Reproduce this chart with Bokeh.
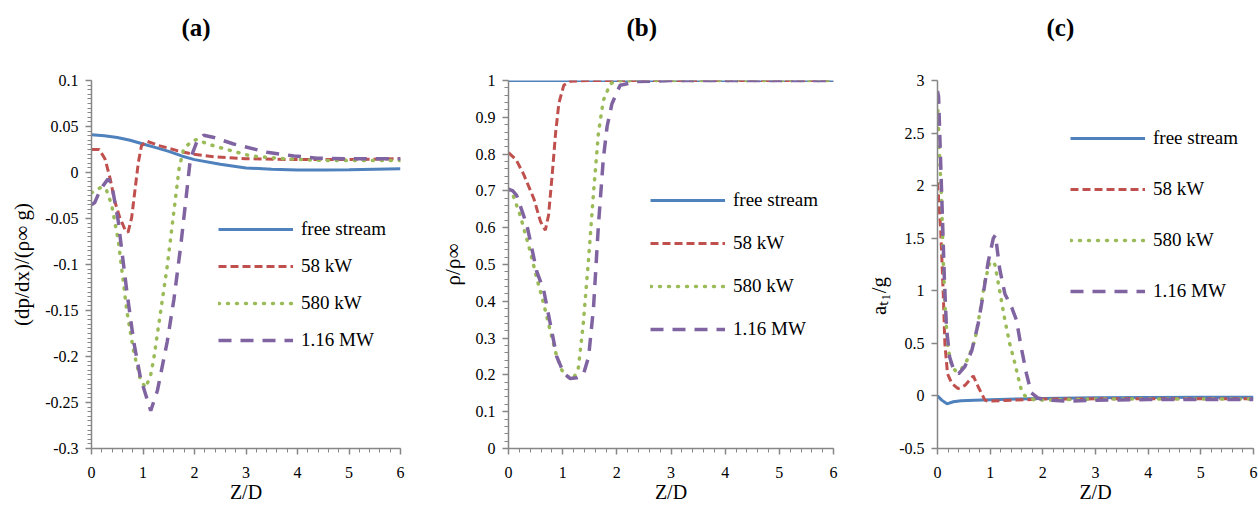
import numpy as np
from bokeh.plotting import figure
from bokeh.layouts import row
from bokeh.models import Range1d, FixedTicker, Legend, LegendItem, Title
from bokeh.embed import file_html
from bokeh.resources import INLINE

# ---------------------------------------------------------------- data
series_names = ["free stream", "58 kW", "580 kW", "1.16 MW"]

# (a) dimensionless pressure gradient
a_free_x = [0, 0.25, 0.5, 0.75, 1.0, 1.25, 1.5, 1.75, 2.0, 2.5, 3.0, 3.5, 4.0, 4.5, 5.0, 5.5, 6.0]
a_free_y = [0.041, 0.040, 0.038, 0.035, 0.031, 0.027, 0.023, 0.018, 0.014, 0.009, 0.005, 0.0035,
            0.0027, 0.0026, 0.003, 0.0035, 0.004]
a_58_x = [0, 0.15, 0.26, 0.36, 0.45, 0.55, 0.65, 0.71, 0.78, 0.84, 0.91, 0.97, 1.07, 1.33, 1.65,
          1.97, 2.4, 3.0, 4.0, 5.0, 6.0]
a_58_y = [0.025, 0.025, 0.015, -0.006, -0.031, -0.049, -0.062, -0.065, -0.049, -0.021, 0.011, 0.029,
          0.034, 0.029, 0.024, 0.020, 0.017, 0.015, 0.014, 0.014, 0.015]
a_580_x = [0, 0.1, 0.19, 0.29, 0.39, 0.45, 0.52, 0.69, 0.82, 0.95, 1.05, 1.15, 1.21, 1.34, 1.47, 1.6,
           1.7, 1.79, 1.95, 2.05, 2.25, 2.63, 3.09, 3.73, 4.5, 5.0, 6.0]
a_580_y = [-0.022, -0.019, -0.016, -0.019, -0.035, -0.053, -0.074, -0.152, -0.195, -0.225, -0.234,
           -0.22, -0.202, -0.152, -0.102, -0.042, 0.004, 0.026, 0.034, 0.036, 0.031, 0.025, 0.018,
           0.015, 0.013, 0.013, 0.013]
a_116_x = [0, 0.06, 0.13, 0.23, 0.32, 0.39, 0.45, 0.52, 0.58, 0.69, 0.82, 0.95, 1.15, 1.28, 1.47, 1.6,
           1.73, 1.83, 1.92, 2.05, 2.18, 2.38, 2.76, 3.41, 3.93, 4.38, 5.0, 6.0]
a_116_y = [-0.035, -0.033, -0.024, -0.014, -0.007, -0.012, -0.031, -0.053, -0.081, -0.131, -0.184,
           -0.223, -0.259, -0.237, -0.184, -0.138, -0.081, -0.031, 0.015, 0.034, 0.0405, 0.038,
           0.031, 0.022, 0.018, 0.0156, 0.015, 0.015]

# (b) density ratio
b_free_x = [0, 1, 2, 3, 4, 5, 6]
b_free_y = [1, 1, 1, 1, 1, 1, 1]
b_58_x = [0, 0.14, 0.28, 0.47, 0.59, 0.68, 0.74, 0.81, 0.87, 0.93, 1.02, 1.14, 1.5, 2, 3, 4, 5, 6]
b_58_y = [0.804, 0.785, 0.745, 0.678, 0.617, 0.593, 0.634, 0.75, 0.858, 0.938, 0.987, 0.998, 1, 1, 1,
          1, 1, 1]
b_580_x = [0, 0.08, 0.215, 0.4, 0.52, 0.65, 0.77, 0.89, 0.98, 1.08, 1.2, 1.29, 1.38, 1.48, 1.57, 1.66,
           1.75, 1.88, 2.0, 2.5, 3, 4, 5, 6]
b_580_y = [0.705, 0.69, 0.634, 0.536, 0.464, 0.393, 0.32, 0.25, 0.214, 0.196, 0.19, 0.219, 0.339,
           0.518, 0.696, 0.857, 0.946, 0.991, 0.999, 1, 1, 1, 1, 1]
b_116_x = [0, 0.08, 0.15, 0.34, 0.52, 0.65, 0.77, 0.89, 1.02, 1.14, 1.26, 1.38, 1.48, 1.57, 1.66, 1.75,
           1.82, 1.91, 2.06, 2.37, 3, 4, 5, 6]
b_116_y = [0.705, 0.70, 0.688, 0.607, 0.482, 0.43, 0.34, 0.25, 0.205, 0.19, 0.192, 0.2, 0.25, 0.384,
           0.607, 0.786, 0.875, 0.937, 0.987, 0.997, 1, 1, 1, 1]

# (c) normalised acceleration
c_free_x = [0, 0.08, 0.18, 0.3, 0.45, 0.7, 1.0, 1.5, 2.0, 3.0, 4.0, 5.0, 6.0]
c_free_y = [0.0, -0.04, -0.075, -0.055, -0.045, -0.04, -0.036, -0.03, -0.025, -0.018, -0.014,
            -0.012, -0.012]
c_58_x = [0, 0.06, 0.11, 0.14, 0.19, 0.27, 0.39, 0.52, 0.68, 0.77, 0.9, 0.96, 1.2, 2.0, 3.0, 4.0,
          5.0, 6.0]
c_58_y = [2.03, 1.59, 0.96, 0.5, 0.21, 0.12, 0.07, 0.10, 0.19, 0.09, -0.04, -0.05, -0.045, -0.03,
          -0.028, -0.028, -0.028, -0.028]
c_580_x = [0, 0.04, 0.08, 0.11, 0.15, 0.2, 0.27, 0.36, 0.46, 0.58, 0.71, 0.8, 0.9, 1.0, 1.09, 1.18,
           1.28, 1.37, 1.47, 1.53, 1.59, 1.66, 1.85, 2.5, 3.0, 4.0, 5.0, 6.0]
c_580_y = [2.8, 2.28, 1.84, 1.28, 0.78, 0.46, 0.28, 0.23, 0.26, 0.355, 0.53, 0.78, 1.09, 1.28, 1.25,
           1.0, 0.72, 0.5, 0.31, 0.18, 0.06, 0.0, -0.04, -0.035, -0.03, -0.03, -0.03, -0.03]
c_116_x = [0, 0.02, 0.05, 0.09, 0.13, 0.17, 0.23, 0.3, 0.4, 0.52, 0.65, 0.77, 0.87, 0.96, 1.06, 1.1,
           1.18, 1.28, 1.41, 1.5, 1.59, 1.69, 1.78, 1.91, 2.1, 2.5, 3.0, 4.0, 5.0, 6.0]
c_116_y = [2.9, 2.85, 2.38, 1.75, 1.12, 0.65, 0.37, 0.26, 0.21, 0.28, 0.43, 0.68, 0.97, 1.27, 1.5,
           1.53, 1.21, 0.97, 0.84, 0.72, 0.46, 0.21, 0.03, -0.02, -0.04, -0.05, -0.04, -0.035, -0.035,
           -0.035]

# ticks and tick labels
x_ticks = [0, 1, 2, 3, 4, 5, 6]
x_tick_labels = ["0", "1", "2", "3", "4", "5", "6"]
a_y_ticks = [-0.3, -0.25, -0.2, -0.15, -0.1, -0.05, 0, 0.05, 0.1]
a_y_tick_labels = ["-0.3", "-0.25", "-0.2", "-0.15", "-0.1", "-0.05", "0", "0.05", "0.1"]
b_y_ticks = [0, 0.1, 0.2, 0.3, 0.4, 0.5, 0.6, 0.7, 0.8, 0.9, 1]
b_y_tick_labels = ["0", "0.1", "0.2", "0.3", "0.4", "0.5", "0.6", "0.7", "0.8", "0.9", "1"]
c_y_ticks = [-0.5, 0, 0.5, 1, 1.5, 2, 2.5, 3]
c_y_tick_labels = ["-0.5", "0", "0.5", "1", "1.5", "2", "2.5", "3"]

# ---------------------------------------------------------------- styling
SERIF = "Liberation Serif, Times New Roman, serif"
GRAY = "#868686"
LINE_STYLES = [
    dict(line_color="#4f81bd", line_width=3),
    dict(line_color="#c0504d", line_width=3, line_dash="8 4"),
    dict(line_color="#9bbb59", line_width=3.5, line_dash="1 8", line_cap="round"),
    dict(line_color="#8064a2", line_width=3.5, line_dash="13 9"),
]
NBSP = "\u00a0"


def minor_list(lo, hi, step):
    n = int(round((hi - lo) / step))
    return [round(lo + i * step, 6) for i in range(n + 1)]


def make_panel(cfg):
    fl, fr, ft, fb = cfg["frame"]          # frame edges in page pixels
    x0 = cfg["origin"]                     # left edge of this figure on the page
    w = cfg["width"]
    p = figure(width=w, height=512,
               x_range=Range1d(0, 6), y_range=Range1d(*cfg["yrange"]),
               output_backend="svg", toolbar_location=None,
               min_border_left=fl - x0, min_border_right=x0 + w - fr,
               min_border_top=ft, min_border_bottom=512 - fb,
               background_fill_color="white", border_fill_color="white",
               outline_line_color=None)
    p.grid.visible = False

    renderers = []
    for (xs, ys), style in zip(cfg["series"], LINE_STYLES):
        renderers.append(p.line(xs, ys, **style))

    # panel letter, kept clear of the frame by an empty strip beneath it
    p.title.text = cfg["title"]
    p.title.align = "left"
    p.title.offset = cfg["title_offset"]
    p.title.vertical_align = "top"
    p.title.text_font = SERIF
    p.title.text_font_size = "25px"
    p.title.text_font_style = "bold"
    p.title.text_color = "black"
    p.title.standoff = 20
    p.add_layout(Title(text=" ", text_font_size="14px", standoff=10), "above")

    # axes
    p.xaxis.ticker = FixedTicker(ticks=x_ticks, minor_ticks=minor_list(0, 6, 0.2))
    p.xaxis.major_label_overrides = dict(zip(x_ticks, x_tick_labels))
    p.yaxis.ticker = FixedTicker(ticks=cfg["yticks"], minor_ticks=cfg["yminor"])
    p.yaxis.major_label_overrides = dict(zip(cfg["yticks"], cfg["ylabels"]))
    for ax in (p.xaxis[0], p.yaxis[0]):
        ax.axis_line_color = GRAY
        ax.axis_line_width = 1.5
        ax.major_tick_line_color = GRAY
        ax.major_tick_line_width = 1.5
        ax.major_tick_out = 6
        ax.major_tick_in = 0
        ax.minor_tick_line_color = GRAY
        ax.minor_tick_line_width = 1
        ax.minor_tick_out = 4
        ax.minor_tick_in = 0
        ax.major_label_text_font = SERIF
        ax.major_label_text_font_size = "16px"
        ax.major_label_text_color = "black"
        ax.axis_label_text_font = SERIF
        ax.axis_label_text_font_style = "normal"
        ax.axis_label_text_color = "black"
    p.yaxis.major_label_standoff = 7
    p.xaxis.major_label_standoff = 12
    p.xaxis.axis_label = "Z/D"
    p.xaxis.axis_label_text_font_size = "20px"
    p.xaxis.axis_label_standoff = 0
    p.yaxis.axis_label = cfg["ytitle"]
    p.yaxis.axis_label_text_font_size = "21px"
    p.yaxis.axis_label_standoff = cfg["ytitle_standoff"]

    lx, ly, spacing = cfg["legend"]
    legend = Legend(items=[LegendItem(label=n, renderers=[r])
                           for n, r in zip(series_names, renderers)],
                    location=(lx, ly), orientation="vertical",
                    glyph_width=75, glyph_height=24, label_height=24,
                    label_standoff=8, spacing=spacing, padding=0, margin=0,
                    border_line_color=None, background_fill_alpha=0,
                    label_text_font=SERIF, label_text_font_size="19px",
                    label_text_color="black")
    p.add_layout(legend)
    return p


panel_a = dict(
    origin=0, width=419, frame=(91, 400, 77, 452), yrange=(-0.3, 0.1),
    series=[(a_free_x, a_free_y), (a_58_x, a_58_y), (a_580_x, a_580_y), (a_116_x, a_116_y)],
    yticks=a_y_ticks, ylabels=a_y_tick_labels, yminor=minor_list(-0.3, 0.1, 0.005),
    title="(a)", title_offset=90,
    ytitle="(dp/dx)/(ρ∞ g)", ytitle_standoff=8,
    legend=(218 - 91, 96, 13),
)

panel_b = dict(
    origin=419, width=419, frame=(508, 833, 80, 453), yrange=(0, 1),
    series=[(b_free_x, b_free_y), (b_58_x, b_58_y), (b_580_x, b_580_y), (b_116_x, b_116_y)],
    yticks=b_y_ticks, ylabels=b_y_tick_labels, yminor=minor_list(0, 1, 0.02),
    title="(b)", title_offset=118,
    ytitle="ρ/ρ∞", ytitle_standoff=8,
    legend=(650 - 508, 107, 19),
)

panel_c = dict(
    origin=838, width=420, frame=(937, 1253, 77, 448), yrange=(-0.5, 3),
    series=[(c_free_x, c_free_y), (c_58_x, c_58_y), (c_580_x, c_580_y), (c_116_x, c_116_y)],
    yticks=c_y_ticks, ylabels=c_y_tick_labels, yminor=[],
    title="(c)", title_offset=109,
    ytitle="aₜ₁/g" + NBSP * 12, ytitle_standoff=5,
    legend=(1070 - 937, 145, 27),
)

layout = row(make_panel(panel_a), make_panel(panel_b), make_panel(panel_c), spacing=0)

with open("out.html", "w") as f:
    f.write(file_html(layout, INLINE))
